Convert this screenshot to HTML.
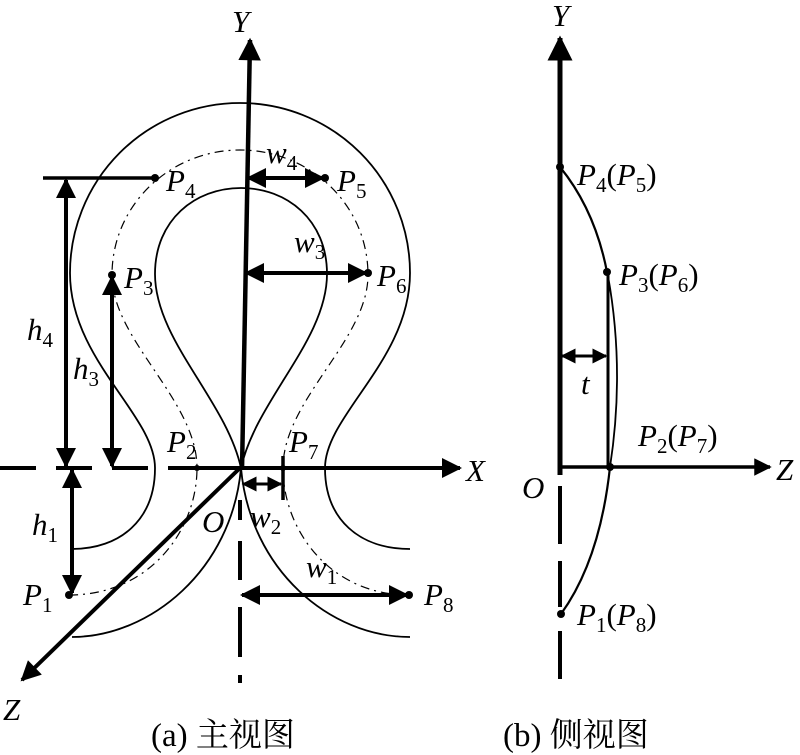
<!DOCTYPE html>
<html><head><meta charset="utf-8"><style>
html,body{margin:0;padding:0;background:#fff;}
svg{display:block;}
text{font-family:"Liberation Serif","Noto Serif CJK SC",serif;fill:#000;}
.i{font-style:italic;}
</style></head><body>
<svg width="800" height="755" viewBox="0 0 800 755" xmlns="http://www.w3.org/2000/svg">
<defs>
<marker id="ah" viewBox="0 0 10 10" refX="9" refY="5" markerWidth="6.5" markerHeight="5" orient="auto-start-reverse" markerUnits="strokeWidth">
<path d="M0,0 L10,5 L0,10 z" fill="#000"/></marker>
</defs>
<g fill="none" stroke="#000">
<path stroke-width="1.8" d="M72 549 C120 549 155 520 155 468 C155 415 70 360 70 273 A170 170 0 1 1 410 273 C410 360 325 415 325 468 C325 520 360 549 410 549"/>
<path stroke-width="1.8" d="M241 468 C226 400 155 340 155 274 C155 220 195 188 241 188 C287 188 327 220 327 274 C327 340 256 400 241 468"/>
<path stroke-width="1.8" d="M241 468 C232 570 150 637 72 637"/>
<path stroke-width="1.8" d="M241 468 C250 570 330 637 410 637"/>
<path stroke-width="1.2" stroke-dasharray="9,5,2,5" d="M69 595 C150 595 197 530 197 468 C197 400 112 340 112 275 C112 205 170 150 240 150 C310 150 368 205 368 275 C368 340 283 400 283 468 C283 530 330 595 409 595"/>
<path stroke-width="4" stroke-dasharray="36,20" d="M0 468 L200 468"/>
<path stroke-width="4" d="M195 468 L460 468" marker-end="url(#ah)"/>
<path stroke-width="4.5" d="M242 470 L250 40" marker-end="url(#ah)"/>
<path stroke-width="4" d="M240 500 V520 M240 541 V580 M240 607 V657 M240 675 V683"/>
<path stroke-width="4" d="M241 467 L22 680" marker-end="url(#ah)"/>
<path stroke-width="3.5" d="M43 178 H155"/>
<path stroke-width="4" d="M66 180 V466" marker-start="url(#ah)" marker-end="url(#ah)"/>
<path stroke-width="4" d="M112 277 V466" marker-start="url(#ah)" marker-end="url(#ah)"/>
<path stroke-width="4" d="M72 470 V593" marker-start="url(#ah)" marker-end="url(#ah)"/>
<path stroke-width="4" d="M248 178 H323" marker-start="url(#ah)" marker-end="url(#ah)"/>
<path stroke-width="4" d="M246 273 H366" marker-start="url(#ah)" marker-end="url(#ah)"/>
<path stroke-width="3" d="M243 484 H281" marker-start="url(#ah)" marker-end="url(#ah)"/>
<path stroke-width="3.5" d="M283 456 V500"/>
<path stroke-width="4" d="M242 595 H407" marker-start="url(#ah)" marker-end="url(#ah)"/>
<path stroke-width="5" d="M560 475 V38" marker-end="url(#ah)"/>
<path stroke-width="4" d="M560 486 V544 M560 561 V607 M560 631 V679"/>
<path stroke-width="3.5" d="M560 467 H770" marker-end="url(#ah)"/>
<path stroke-width="2.2" d="M560 167 Q595 210 607 272"/>
<path stroke-width="3" d="M608 272 V467"/>
<path stroke-width="1.8" d="M608 276 Q625 370 610 467"/>
<path stroke-width="2.2" d="M610 467 Q600 560 561 614"/>
<path stroke-width="3" d="M562 356 H606" marker-start="url(#ah)" marker-end="url(#ah)"/>
</g>
<g fill="#000">
<circle cx="155" cy="178" r="4"/><circle cx="325" cy="178" r="4"/>
<circle cx="112" cy="275" r="4"/><circle cx="368" cy="273" r="4"/>
<circle cx="197" cy="468" r="3"/><circle cx="283" cy="468" r="3"/>
<circle cx="69" cy="595" r="4"/><circle cx="409" cy="595" r="4"/>
<circle cx="560" cy="167" r="4"/><circle cx="607" cy="272" r="4"/>
<circle cx="610" cy="467" r="4"/><circle cx="561" cy="614" r="4"/>
</g>
<g font-size="31">
<text class="i" x="232" y="32">Y</text>
<text class="i" x="466" y="481">X</text>
<text class="i" x="3" y="720">Z</text>
<text class="i" x="202" y="532">O</text>
<text x="166" y="191"><tspan class="i">P</tspan><tspan font-size="21" dy="7">4</tspan></text>
<text x="337" y="191"><tspan class="i">P</tspan><tspan font-size="21" dy="7">5</tspan></text>
<text x="124" y="288"><tspan class="i">P</tspan><tspan font-size="21" dy="7">3</tspan></text>
<text x="377" y="286"><tspan class="i">P</tspan><tspan font-size="21" dy="7">6</tspan></text>
<text x="167" y="452"><tspan class="i">P</tspan><tspan font-size="21" dy="7">2</tspan></text>
<text x="289" y="452"><tspan class="i">P</tspan><tspan font-size="21" dy="7">7</tspan></text>
<text x="23" y="605"><tspan class="i">P</tspan><tspan font-size="21" dy="7">1</tspan></text>
<text x="424" y="605"><tspan class="i">P</tspan><tspan font-size="21" dy="7">8</tspan></text>
<text x="27" y="340"><tspan class="i">h</tspan><tspan font-size="21" dy="7">4</tspan></text>
<text x="73" y="379"><tspan class="i">h</tspan><tspan font-size="21" dy="7">3</tspan></text>
<text x="32" y="535"><tspan class="i">h</tspan><tspan font-size="21" dy="7">1</tspan></text>
<text x="266" y="163"><tspan class="i">w</tspan><tspan font-size="21" dy="7">4</tspan></text>
<text x="294" y="252"><tspan class="i">w</tspan><tspan font-size="21" dy="7">3</tspan></text>
<text x="250" y="527"><tspan class="i">w</tspan><tspan font-size="21" dy="7">2</tspan></text>
<text x="306" y="577"><tspan class="i">w</tspan><tspan font-size="21" dy="7">1</tspan></text>
<text class="i" x="552" y="26">Y</text>
<text class="i" x="776" y="480">Z</text>
<text class="i" x="522" y="498">O</text>
<text class="i" x="581" y="394">t</text>
<text x="577" y="185"><tspan class="i">P</tspan><tspan font-size="21" dy="7">4</tspan><tspan dy="-7">(</tspan><tspan class="i">P</tspan><tspan font-size="21" dy="7">5</tspan><tspan dy="-7">)</tspan></text>
<text x="619" y="285"><tspan class="i">P</tspan><tspan font-size="21" dy="7">3</tspan><tspan dy="-7">(</tspan><tspan class="i">P</tspan><tspan font-size="21" dy="7">6</tspan><tspan dy="-7">)</tspan></text>
<text x="638" y="446"><tspan class="i">P</tspan><tspan font-size="21" dy="7">2</tspan><tspan dy="-7">(</tspan><tspan class="i">P</tspan><tspan font-size="21" dy="7">7</tspan><tspan dy="-7">)</tspan></text>
<text x="577" y="625"><tspan class="i">P</tspan><tspan font-size="21" dy="7">1</tspan><tspan dy="-7">(</tspan><tspan class="i">P</tspan><tspan font-size="21" dy="7">8</tspan><tspan dy="-7">)</tspan></text>
</g>
<g font-size="33">
<text x="151" y="746">(a) 主视图</text>
<text x="503" y="746">(b) 侧视图</text>
</g>
</svg>
</body></html>
